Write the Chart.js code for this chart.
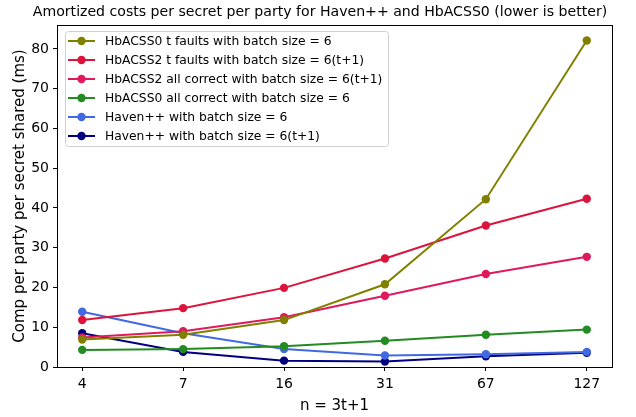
<!DOCTYPE html>
<html>
<head>
<meta charset="utf-8">
<script src="https://cdn.jsdelivr.net/npm/chart.js@4"></script>
<style>
  body { margin: 0; background: #fff; }
  #wrap { width: 636px; height: 417px; }
</style>
</head>
<body>
<div id="wrap"><canvas id="costChart" width="636" height="417"></canvas></div>
<script>
// Chart.js global settings
Chart.defaults.font.family = 'DejaVu Sans';
Chart.defaults.color = '#000';

// Data
const nLabels = ['4', '7', '16', '31', '67', '127'];
const hbacss0Faults = [6.9, 8.1, 11.8, 20.8, 42.2, 82.1];
const hbacss2Faults = [11.8, 14.8, 19.9, 27.3, 35.6, 42.3];
const hbacss2Correct = [7.4, 9.0, 12.5, 17.9, 23.4, 27.7];
const hbacss0Correct = [4.3, 4.5, 5.2, 6.6, 8.1, 9.4];
const havenSmall = [13.9, 8.5, 4.5, 2.9, 3.2, 3.8];
const havenLarge = [8.5, 3.8, 1.6, 1.4, 2.7, 3.6];

const chartTitle = 'Amortized costs per secret per party for Haven++ and HbACSS0 (lower is better)';
const seriesNames = [
    'HbACSS0 t faults with batch size = 6',
    'HbACSS2 t faults with batch size = 6(t+1)',
    'HbACSS2 all correct with batch size = 6(t+1)',
    'HbACSS0 all correct with batch size = 6',
    'Haven++ with batch size = 6',
    'Haven++ with batch size = 6(t+1)'
];
const seriesValues = [hbacss0Faults, hbacss2Faults, hbacss2Correct, hbacss0Correct, havenSmall, havenLarge];
const seriesColors = ['#808000', '#dc143c', '#e0195e', '#228b22', '#4169e1', '#000080'];

function toPoints(values) {
    return values.map((v, i) => ({ x: i, y: v }));
}

// Title over the plot area, frame around it, and a matplotlib-style legend in the upper left
const framePlugin = {
    id: 'frameAndLegend',
    afterDraw(chart) {
        const ctx = chart.ctx;
        const a = chart.chartArea;
        ctx.save();
        ctx.strokeStyle = '#000';
        ctx.lineWidth = 1;
        ctx.strokeRect(a.left + 0.5, a.top + 0.5, a.right - a.left, a.bottom - a.top);

        // title, centred on the axes like matplotlib does
        ctx.font = '14.1px DejaVu Sans';
        ctx.fillStyle = '#000';
        ctx.textAlign = 'center';
        ctx.textBaseline = 'middle';
        ctx.fillText(chartTitle, 320, 12);
        ctx.textAlign = 'left';

        // legend box
        const bx = a.left + 8, by = a.top + 6, bw = 323, bh = 115;
        ctx.beginPath();
        ctx.roundRect(bx + 0.5, by + 0.5, bw, bh, 3);
        ctx.fillStyle = 'rgba(255,255,255,0.8)';
        ctx.fill();
        ctx.strokeStyle = '#d0d0d0';
        ctx.stroke();

        ctx.font = '12.3px DejaVu Sans';
        chart.data.datasets.forEach((ds, i) => {
            const y = by + 10 + i * 19;
            ctx.strokeStyle = ds.borderColor;
            ctx.lineWidth = 2;
            ctx.beginPath();
            ctx.moveTo(bx + 3, y);
            ctx.lineTo(bx + 30, y);
            ctx.stroke();
            ctx.fillStyle = ds.borderColor;
            ctx.beginPath();
            ctx.arc(bx + 16.5, y, 4.2, 0, Math.PI * 2);
            ctx.fill();
            ctx.fillStyle = '#000';
            ctx.fillText(ds.label, bx + 40, y + 1);
        });
        ctx.restore();
    }
};

const ctx = document.getElementById('costChart').getContext('2d');
const costChart = new Chart(ctx, {
    type: 'line',
    data: {
        datasets: seriesNames.map((name, i) => ({
            label: name,
            data: toPoints(seriesValues[i]),
            borderColor: seriesColors[i],
            backgroundColor: seriesColors[i],
            borderWidth: 2,
            pointRadius: 4.2,
            pointHoverRadius: 4.2,
            pointBorderWidth: 0,
            fill: false,
            tension: 0
        }))
    },
    options: {
        responsive: false,
        animation: false,
        events: [],
        layout: { padding: { right: 24, top: 25, left: 0, bottom: 0 } },
        plugins: {
            legend: { display: false },
            tooltip: { enabled: false },
            title: { display: false }
        },
        scales: {
            x: {
                type: 'linear',
                min: -0.25,
                max: 5.25,
                afterBuildTicks: (scale) => {
                    scale.ticks = nLabels.map((_, i) => ({ value: i }));
                },
                afterFit: (scale) => { scale.height = 50; },
                ticks: {
                    callback: (value) => nLabels[value],
                    font: { size: 14 },
                    padding: 5,
                    maxRotation: 0
                },
                grid: { drawOnChartArea: false, drawTicks: true, tickLength: 4, color: '#000' },
                border: { display: false },
                title: { display: true, text: 'n = 3t+1', font: { size: 15 }, padding: { top: 0, bottom: 2 } }
            },
            y: {
                min: 0,
                max: 86,
                afterBuildTicks: (scale) => {
                    scale.ticks = scale.ticks.filter(t => t.value % 10 === 0);
                },
                afterFit: (scale) => { scale.width = 57; },
                ticks: { stepSize: 10, font: { size: 14 }, padding: 4 },
                grid: { drawOnChartArea: false, drawTicks: true, tickLength: 4, color: '#000' },
                border: { display: false },
                title: { display: true, text: 'Comp per party per secret shared (ms)', font: { size: 15 }, padding: { top: 11, bottom: 4 } }
            }
        }
    },
    plugins: [framePlugin]
});
</script>
</body>
</html>
